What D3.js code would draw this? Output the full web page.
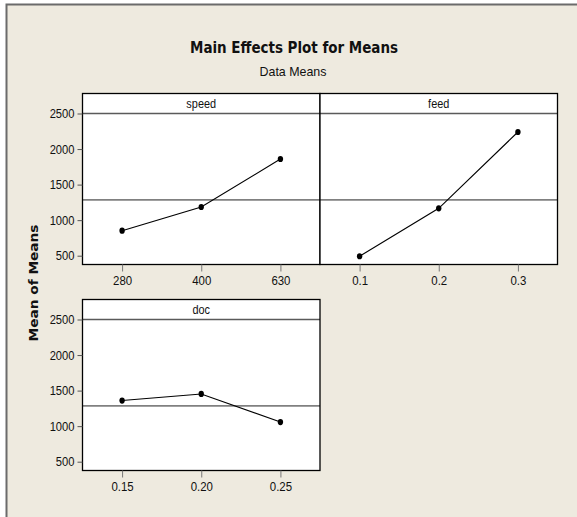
<!DOCTYPE HTML>
<html>
<head>
<meta charset="utf-8">
<title>Main Effects Plot for Means</title>
<style>
	body { margin: 0; background: #fff; }
	text { font-family: "Liberation Sans", Arial, sans-serif; fill: #111; }
</style>
</head>

<body>
<div id="chart"></div>

	<script src="https://cdnjs.cloudflare.com/ajax/libs/d3/7.8.5/d3.min.js" charset="utf-8"></script>
	<script>
	// data
	var speedLevels = ["280", "400", "630"];
	var speedMeans = [852, 1185, 1860];
	var feedLevels = ["0.1", "0.2", "0.3"];
	var feedMeans = [492, 1167, 2240];
	var docLevels = ["0.15", "0.20", "0.25"];
	var docMeans = [1360, 1453, 1058];
	var grandMean = 1285;
	var yTicks = [500, 1000, 1500, 2000, 2500];

	var W = 577, H = 517;
	var svg = d3.select("#chart")
				.append("svg")
				.attr("width", W)
				.attr("height", H);

	// the original font is a narrow one, so squeeze the text sideways
	function narrow(sel, s) {
		sel.each(function() {
			var t = d3.select(this);
			var x0 = +t.attr("x") || 0;
			t.attr("x", x0 / s).attr("transform", "scale(" + s + ",1)");
		});
	}

	svg.append("rect").attr("width", W).attr("height", H).attr("fill", "#fff");
	// minitab style frame, cut off at the right and bottom
	svg.append("rect")
		.attr("x", 6.5).attr("y", 4.5)
		.attr("width", 640).attr("height", 640)
		.attr("fill", "#eeeadf")
		.attr("stroke", "#6b6b6b")
		.attr("stroke-width", 2);

	svg.append("text")
		.attr("x", 294).attr("y", 53)
		.attr("text-anchor", "middle")
		.style("font-family", "'DejaVu Sans Condensed', 'DejaVu Sans', sans-serif")
		.style("font-weight", "bold")
		.style("font-size", "16px")
		.attr("textLength", 208)
		.attr("lengthAdjust", "spacingAndGlyphs")
		.text("Main Effects Plot for Means");

	svg.append("text")
		.attr("x", 293).attr("y", 76)
		.attr("text-anchor", "middle")
		.style("font-size", "13.5px")
		.attr("textLength", 67)
		.attr("lengthAdjust", "spacingAndGlyphs")
		.text("Data Means");

	svg.append("text")
		.attr("transform", "translate(38,283) rotate(-90)")
		.attr("text-anchor", "middle")
		.style("font-family", "'DejaVu Sans', Verdana, sans-serif")
		.style("font-weight", "bold")
		.style("font-size", "13px")
		.attr("textLength", 117)
		.attr("lengthAdjust", "spacingAndGlyphs")
		.text("Mean of Means");

	var panels = [
		{name: "speed", levels: speedLevels, means: speedMeans, x0: 82.5, top: 93.5, yAxis: true},
		{name: "feed", levels: feedLevels, means: feedMeans, x0: 320, top: 93.5, yAxis: false},
		{name: "doc", levels: docLevels, means: docMeans, x0: 82.5, top: 299.5, yAxis: true}
	];
	var pw = 237.5, headH = 20, plotH = 151;

	panels.forEach(function(p) {
		var plotTop = p.top + headH;
		var x = d3.scalePoint().domain(p.levels).range([p.x0, p.x0 + pw]).padding(0.5);
		var y = d3.scaleLinear().domain([500, 2500]).range([plotTop + 142.2, plotTop]);
		var g = svg.append("g");

		g.append("rect")
			.attr("x", p.x0).attr("y", p.top)
			.attr("width", pw).attr("height", headH + plotH)
			.attr("fill", "#fff");

		// grand mean reference
		g.append("line")
			.attr("x1", p.x0).attr("x2", p.x0 + pw)
			.attr("y1", y(grandMean)).attr("y2", y(grandMean))
			.attr("stroke", "#808080").attr("stroke-width", 1.6);

		var pts = p.levels.map(function(l, i) { return [x(l), y(p.means[i])]; });
		g.append("path")
			.attr("d", d3.line()(pts))
			.attr("fill", "none")
			.attr("stroke", "#000").attr("stroke-width", 1.1);
		g.selectAll("ellipse")
			.data(pts)
			.enter()
			.append("ellipse")
			.attr("cx", function(d) { return d[0]; })
			.attr("cy", function(d) { return d[1]; })
			.attr("rx", 2.7).attr("ry", 3.1)
			.attr("fill", "#000");

		// header strip
		g.append("line")
			.attr("x1", p.x0).attr("x2", p.x0 + pw)
			.attr("y1", plotTop).attr("y2", plotTop)
			.attr("stroke", "#5a5a5a").attr("stroke-width", 1.6);
		g.append("text")
			.attr("x", p.x0 + pw / 2).attr("y", plotTop - 5)
			.attr("text-anchor", "middle")
			.style("font-size", "13px")
			.text(p.name)
			.call(narrow, 0.84);

		g.append("rect")
			.attr("x", p.x0).attr("y", p.top)
			.attr("width", pw).attr("height", headH + plotH)
			.attr("fill", "none")
			.attr("stroke", "#000").attr("stroke-width", 1.3);

		var xa = g.append("g")
			.attr("transform", "translate(0," + (plotTop + plotH) + ")")
			.call(d3.axisBottom(x).tickSize(7).tickPadding(4));
		xa.select(".domain").remove();
		xa.selectAll("line").attr("stroke", "#777");
		xa.selectAll("text")
			.style("font-size", "13px").style("font-family", null).attr("fill", "#111")
			.call(narrow, 0.88);

		if (p.yAxis) {
			var ya = g.append("g")
				.attr("transform", "translate(" + p.x0 + ",0)")
				.call(d3.axisLeft(y).tickValues(yTicks).tickFormat(d3.format("d")).tickSize(5).tickPadding(3));
			ya.select(".domain").remove();
			ya.selectAll("line").attr("stroke", "#555");
			ya.selectAll("text")
				.style("font-size", "13px").style("font-family", null).attr("fill", "#111")
				.call(narrow, 0.86);
		}
	});
	</script>
</body>
</html>
